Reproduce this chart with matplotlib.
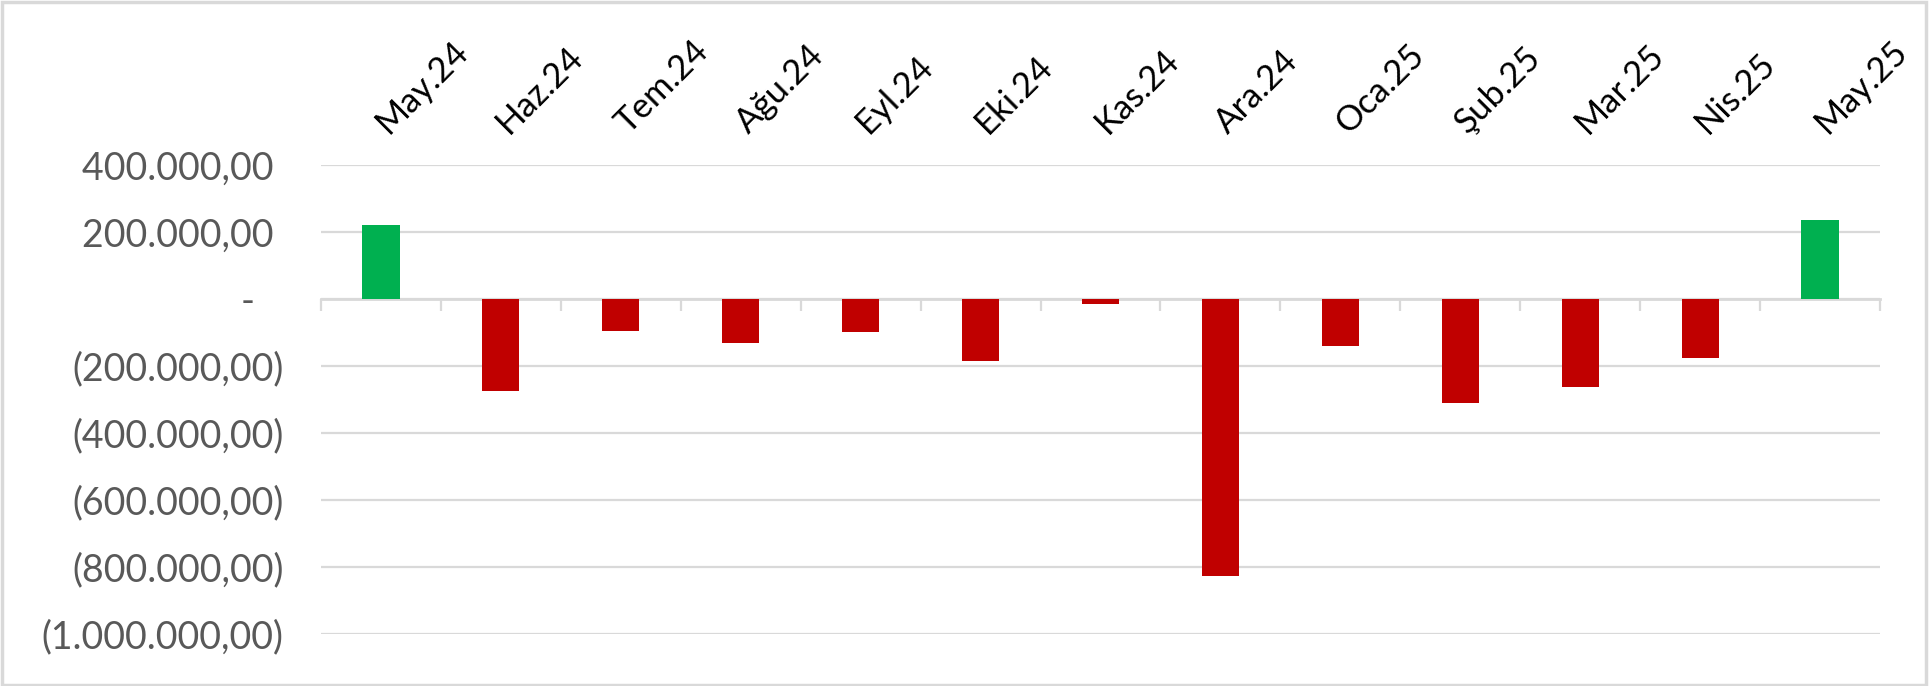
import matplotlib
matplotlib.use("Agg")
import matplotlib.pyplot as plt
import matplotlib.transforms as mtransforms
from matplotlib.ticker import FuncFormatter, FixedLocator, MultipleLocator
from matplotlib.patches import Rectangle
import numpy as np

months = ["May.24", "Haz.24", "Tem.24", "Ağu.24", "Eyl.24", "Eki.24", "Kas.24",
          "Ara.24", "Oca.25", "Şub.25", "Mar.25", "Nis.25", "May.25"]
values = [221000, -276000, -96000, -130000, -100000, -186000, -15000,
          -828000, -139000, -310000, -262000, -175000, 236000]

GREEN = "#00B050"
RED = "#C00000"
GRID = "#D9D9D9"

plt.rcParams['font.family'] = ['Lato', 'DejaVu Sans']


def tr_accounting(v, pos=None):
    # Excel accounting style, Turkish separators
    if abs(v) < 1e-6:
        return "-   "
    s = f"{abs(v):,.2f}".replace(",", "X").replace(".", ",").replace("X", ".")
    if v < 0:
        return f"({s})"
    return s + " "


fig = plt.figure(figsize=(19.30, 6.86), dpi=100)
ax = fig.add_axes([0.1663, 0.0758, 0.8078, 0.6837])

x = np.arange(len(months))
colors = [GREEN if v > 0 else RED for v in values]
ax.bar(x, values, width=0.31, color=colors, zorder=3)

ax.set_xlim(-0.5, len(months) - 0.5)
ax.set_ylim(-1000000, 400000)
ax.yaxis.set_major_locator(MultipleLocator(200000))
ax.yaxis.set_major_formatter(FuncFormatter(tr_accounting))
ax.grid(axis="y", color=GRID, linewidth=1.6, zorder=0)
ax.set_axisbelow(True)

for side in ["top", "right", "left"]:
    ax.spines[side].set_visible(False)
ax.spines["bottom"].set_position(("data", 0))
ax.spines["bottom"].set_color(GRID)
ax.spines["bottom"].set_linewidth(2.0)
ax.spines["bottom"].set_zorder(2)

ax.set_xticks(x)
ax.set_xticklabels(months)
ax.xaxis.set_minor_locator(FixedLocator(np.arange(len(months) + 1) - 0.5))
ax.tick_params(axis="x", which="major", bottom=False, top=False,
               labelbottom=False, labeltop=True, pad=15,
               labelsize=25, labelcolor="black")
ax.tick_params(axis="x", which="minor", bottom=True, top=False,
               direction="out", length=8.5, width=1.6, color=GRID)
shift = mtransforms.ScaledTranslation(12 / 100, 0, fig.dpi_scale_trans)
for lbl in ax.get_xticklabels():
    lbl.set_rotation(45)
    lbl.set_rotation_mode("anchor")
    lbl.set_ha("left")
    lbl.set_va("bottom")
    lbl.set_transform(lbl.get_transform() + shift)

ax.tick_params(axis="y", length=0, pad=27, labelsize=27, labelcolor="#595959")

fig.patches.append(Rectangle((0.001, 0.002), 0.997, 0.995, transform=fig.transFigure,
                             fill=False, edgecolor=GRID, linewidth=2.5))

fig.savefig("out.png", dpi=100, facecolor="white")
